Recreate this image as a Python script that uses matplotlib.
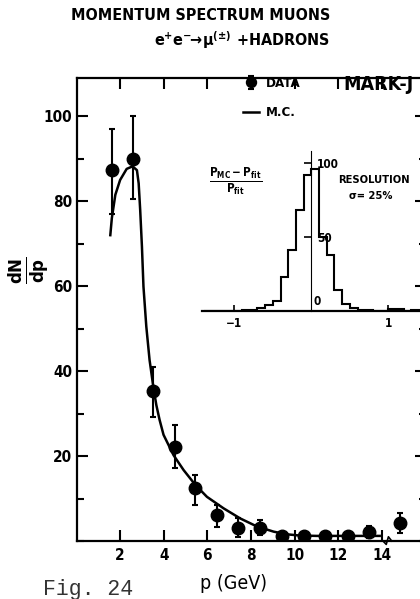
import numpy as np
import matplotlib.pyplot as plt
from matplotlib.ticker import MultipleLocator

plt.rcParams['font.family'] = ['DejaVu Sans']
plt.rcParams['font.stretch'] = 'condensed'
plt.rcParams['font.weight'] = 'bold'
plt.rcParams['mathtext.fontset'] = 'dejavusans'

# measured muon momentum spectrum
p_data = [1.62, 2.59, 3.53, 4.53, 5.45, 6.44, 7.42, 8.43, 9.42, 10.41, 11.41, 12.45, 13.4, 14.85]
dndp = [87.3, 89.9, 35.3, 22.2, 12.4, 6.1, 3.0, 3.1, 1.2, 1.2, 1.2, 1.2, 2.2, 4.3]
err_lo = [10.3, 9.4, 6.0, 5.1, 3.9, 2.7, 2.0, 1.7, 0.5, 0.5, 0.5, 0.5, 1.6, 2.4]
err_hi = [9.7, 10.1, 5.7, 5.1, 3.1, 2.4, 2.3, 1.8, 0.5, 0.5, 0.5, 0.5, 1.3, 2.2]

# monte carlo curve
p_mc = [1.55, 1.62, 1.78, 2.0, 2.3, 2.57, 2.77, 2.85, 2.92, 3.0, 3.07, 3.2, 3.35, 3.53,
        3.66, 3.81, 3.99, 4.45, 4.91, 5.45, 5.98, 6.74, 7.51, 8.28, 9.04, 9.6, 10.2,
        11.0, 12.0, 13.0, 13.9]
dndp_mc = [72.0, 76.0, 81.5, 85.0, 87.6, 88.2, 87.3, 84.2, 77.9, 69.3, 59.9, 50.5, 42.6, 36.0,
           32.0, 28.5, 25.0, 20.2, 16.7, 13.2, 10.4, 7.7, 5.3, 3.4, 2.2, 1.6, 1.3,
           1.2, 1.2, 1.2, 1.2]

# resolution histogram (P_MC - P_fit)/P_fit
res_edges = np.round(np.arange(-1.4, 1.41, 0.1), 2)
res_counts = [0, 0, 0, 0, 0, 1, 1, 2, 4, 6.5, 23, 41, 68, 92,
              96, 50, 38, 14.5, 4.5, 2, 1, 0.5, 0, 0, 1.2, 1.2, 0, 1]

W, H = 420, 599
fig = plt.figure(figsize=(W / 100, H / 100), dpi=100)

ax = fig.add_axes([76.5 / W, 58 / H, 349 / W, 463 / H])
ax.set_xlim(0, 16)
ax.set_ylim(0, 109)

eb = ax.errorbar(p_data, dndp, yerr=[err_lo, err_hi], fmt='o', color='black',
                 markersize=9, elinewidth=1.5, capsize=2.5, capthick=1.5)
mc, = ax.plot(p_mc, dndp_mc, color='black', lw=1.8)

for s in ax.spines.values():
    s.set_linewidth(1.6)
ax.spines['right'].set_visible(False)

ax.set_xticks([2, 4, 6, 8, 10, 12, 14])
ax.set_yticks([20, 40, 60, 80, 100])
ax.yaxis.set_minor_locator(MultipleLocator(10))
ax.tick_params(which='both', direction='in', top=True, right=True, width=1.5,
               labelsize=11, pad=5)
ax.tick_params(which='major', length=8)
ax.tick_params(which='minor', length=5)
ax.tick_params(axis='y', pad=3)

# axis break mark
ax.plot([14.05, 14.2, 14.3, 14.45], [0, -0.8, 1.0, 0], color='black', lw=1.2,
        clip_on=False)

ax.legend([eb, mc], ['DATA', 'M.C.'], loc='upper left', frameon=False,
          bbox_to_anchor=(243 / W, 1 - 77 / H), bbox_transform=fig.transFigure,
          borderpad=0, borderaxespad=0, handlelength=1.2, handletextpad=0.5,
          labelspacing=1.25, fontsize=9.5, markerscale=0.8)

fig.text(343 / W, 1 - 84 / H, 'MARK-J', fontsize=14, va='center', ha='left')

ax.set_xlabel('p (GeV)', fontsize=14)
ax.xaxis.set_label_coords((234 - 76.5) / 349, -33 / 463)
fig.text(29 / W, 1 - 270 / H, r'$\frac{\mathbf{dN}}{\mathbf{dp}}$', fontsize=19,
         rotation=90, ha='center', va='center')

fig.text(201 / W, 1 - 15 / H, 'MOMENTUM SPECTRUM MUONS', fontsize=11.5,
         ha='center', va='center')
fig.text(242 / W, 1 - 40 / H, r'$\mathbf{e^{+}e^{-}}\!\!\rightarrow\!\mathbf{\mu^{(\pm)}}$ +HADRONS',
         fontsize=11.5, ha='center', va='center')
fig.text(43 / W, 1 - 590 / H, 'Fig. 24', fontsize=15.5, family='Liberation Mono',
         weight='normal', stretch='normal', color='#333333', ha='left', va='center')

# inset: resolution
ax_in = fig.add_axes([202 / W, (H - 311) / H, 221 / W, 163 / H])
ax_in.set_xlim(-1.42, 1.45)
ax_in.set_ylim(0, 110)
ax_in.patch.set_visible(False)
ax_in.stairs(res_counts, res_edges, color='black', lw=1.5)
ax_in.spines['top'].set_visible(False)
ax_in.spines['right'].set_visible(False)
ax_in.spines['bottom'].set_linewidth(1.6)
ax_in.spines['left'].set_position(('data', 0))
ax_in.spines['left'].set_bounds(0, 108)
ax_in.spines['left'].set_linewidth(0.8)
ax_in.set_xticks([-1, 1])
ax_in.set_yticks([50, 100])
ax_in.tick_params(axis='x', direction='in', length=4, width=1.2, labelsize=8.5, pad=4)
ax_in.tick_params(axis='y', direction='out', length=5, width=1.2, labelsize=8.5,
                  pad=-9)
for lab in ax_in.get_yticklabels():
    lab.set_ha('left')
ax_in.text(0.03, 2, '0', fontsize=8.5, ha='left', va='bottom')

fig.text(236 / W, 1 - 181 / H,
         r'$\frac{\mathrm{P_{MC}-P_{fit}}}{\mathrm{P_{fit}}}$', fontsize=12,
         ha='center', va='center')
fig.text(374 / W, 1 - 180 / H, 'RESOLUTION', fontsize=8, ha='center', va='center')
fig.text(371 / W, 1 - 196 / H, 'σ= 25%', fontsize=8, ha='center', va='center')

fig.savefig('out.png', dpi=100)
